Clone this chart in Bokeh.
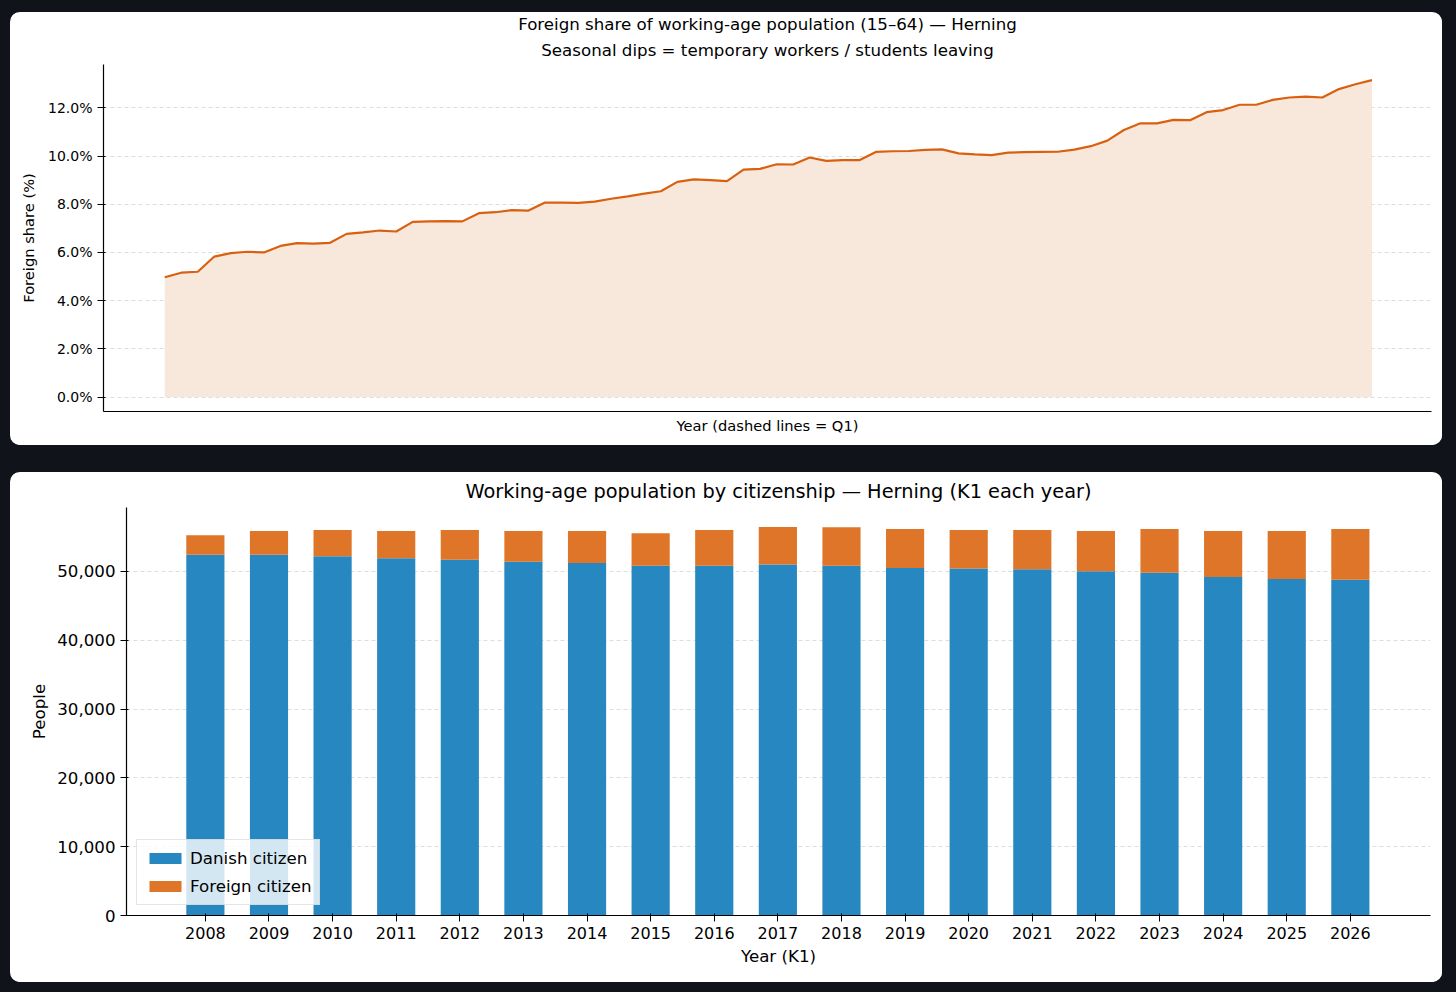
from bokeh.plotting import figure
from bokeh.layouts import column, row
from bokeh.models import (Title, FixedTicker, NumeralTickFormatter, Legend, LegendItem,
                          ColumnDataSource, CustomJSTickFormatter)
from bokeh.embed import file_html
from bokeh.resources import INLINE

share = [4.97,5.16,5.2,5.83,5.97,6.03,6.0,6.27,6.39,6.37,6.4,6.77,6.83,6.91,6.87,7.27,7.29,7.3,7.29,7.63,
         7.67,7.76,7.74,8.07,8.07,8.06,8.11,8.23,8.33,8.44,8.54,8.93,9.03,9.0,8.96,9.44,9.47,9.66,9.65,9.94,
         9.8,9.83,9.83,10.17,10.2,10.21,10.26,10.28,10.11,10.07,10.04,10.14,10.16,10.17,10.18,10.27,10.41,10.64,11.08,11.36,
         11.36,11.5,11.49,11.82,11.91,12.13,12.13,12.33,12.43,12.47,12.43,12.78,12.98,13.15]
years = list(range(2008, 2027))
danish = [52400,52400,52200,51900,51700,51400,51200,50800,50800,51000,50800,50500,50400,50300,50000,49800,49200,48900,48800]
total = [55250,55850,56000,55850,56000,55850,55850,55550,56000,56450,56400,56150,56000,56000,55850,56150,55850,55850,56150]
foreign = [t - d for t, d in zip(total, danish)]

FONT = "DejaVu Sans"
panel_styles = {"border-radius": "10px", "overflow": "hidden", "background-color": "white"}

def style_axes(p):
    p.outline_line_color = None
    for ax in (p.xaxis[0], p.yaxis[0]):
        ax.axis_line_color = "black"
        ax.axis_line_width = 1.2
        ax.major_tick_line_color = "black"
        ax.minor_tick_line_color = None
        ax.major_label_text_font = FONT
        ax.axis_label_text_font = FONT
        ax.axis_label_text_font_style = "normal"
        ax.axis_label_text_color = "black"
        ax.major_label_text_color = "black"
    p.xgrid.grid_line_color = None
    p.ygrid.grid_line_color = "#dddddd"
    p.ygrid.grid_line_dash = "4 3"

# Top chart
p1 = figure(width=1432, height=433, output_backend="svg", toolbar_location=None,
            x_range=(-3.7, 76.6), y_range=(-0.6, 13.8),
            min_border_left=93, min_border_right=11, min_border_top=4, min_border_bottom=34,
            background_fill_color="white", border_fill_color="white", styles=panel_styles,
            margin=(12, 0, 0, 10))
xs = list(range(len(share)))
p1.varea(x=xs, y1=[0]*len(share), y2=share, fill_color="#f8e7db", fill_alpha=1)
p1.line(xs, share, line_color="#d9600f", line_width=2.2)
p1.add_layout(Title(text="Seasonal dips = temporary workers / students leaving", align="center",
                    text_font=FONT, text_font_size="12.5pt", text_font_style="normal",
                    text_color="black", standoff=10, offset=0), "above")
p1.add_layout(Title(text="Foreign share of working-age population (15–64) — Herning", align="center",
                    text_font=FONT, text_font_size="12.5pt", text_font_style="normal",
                    text_color="black", standoff=0), "above")
style_axes(p1)
p1.xaxis.ticker = FixedTicker(ticks=[])
p1.xaxis.major_label_text_font_size = "0pt"
p1.xaxis.axis_label = "Year (dashed lines = Q1)"
p1.xaxis.axis_label_text_font_size = "11pt"
p1.yaxis.axis_label = "Foreign share (%)"
p1.yaxis.axis_label_text_font_size = "11pt"
p1.yaxis.axis_label_standoff = 8
p1.yaxis.ticker = FixedTicker(ticks=[0, 2, 4, 6, 8, 10, 12])
p1.yaxis.formatter = CustomJSTickFormatter(code="return tick.toFixed(1) + '%'")
p1.yaxis.major_label_text_font_size = "10.5pt"

# Bottom chart
p2 = figure(width=1432, height=510, output_backend="svg", toolbar_location=None,
            x_range=(2006.76, 2027.26), y_range=(0, 59280),
            min_border_left=116, min_border_right=12, min_border_top=10, min_border_bottom=67,
            background_fill_color="white", border_fill_color="white", styles=panel_styles,
            margin=(27, 0, 0, 10))
src = ColumnDataSource(dict(year=years, danish=danish, foreign=foreign))
r = p2.vbar_stack(["danish", "foreign"], x="year", width=0.6, source=src,
                  color=["#2787c1", "#de7528"], line_color=None)
p2.title.text = "Working-age population by citizenship — Herning (K1 each year)"
p2.title.align = "center"
p2.title.text_font = FONT
p2.title.text_font_size = "14.5pt"
p2.title.text_font_style = "normal"
p2.title.text_color = "black"
style_axes(p2)
p2.xaxis.ticker = FixedTicker(ticks=years)
p2.xaxis.major_label_text_font_size = "12pt"
p2.xaxis.axis_label = "Year (K1)"
p2.xaxis.axis_label_text_font_size = "12.5pt"
p2.yaxis.ticker = FixedTicker(ticks=[0, 10000, 20000, 30000, 40000, 50000])
p2.yaxis.formatter = NumeralTickFormatter(format="0,0")
p2.yaxis.major_label_text_font_size = "12.5pt"
p2.yaxis.axis_label = "People"
p2.yaxis.axis_label_text_font_size = "12.5pt"
leg = Legend(items=[LegendItem(label="Danish citizen", renderers=[r[0]]),
                    LegendItem(label="Foreign citizen", renderers=[r[1]])],
             location="bottom_left", label_text_font=FONT, label_text_font_size="12.5pt",
             label_text_color="black",
             border_line_color="#cccccc", background_fill_alpha=0.8, glyph_width=40, glyph_height=14,
             label_height=20, spacing=8, padding=8, margin=10)
p2.add_layout(leg, "center")

layout = column(row(p1), row(p2), width=1450, height=990, spacing=0,
                styles={"background-color": "#10141a"})
html = file_html(layout, INLINE)
html = html.replace("<body>", "<body style=\"background-color:#10141a;\">")
open("out.html", "w").write(html)
